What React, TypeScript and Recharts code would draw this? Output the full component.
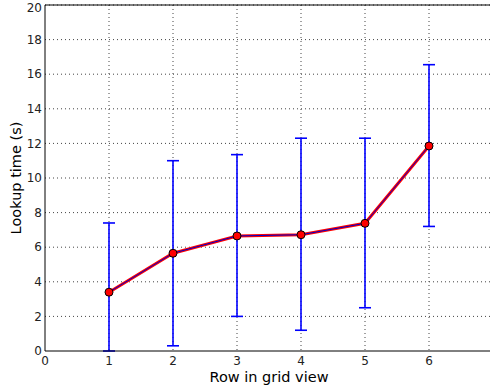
import React from 'react'
import { LineChart, Line, XAxis, YAxis, CartesianGrid, ErrorBar, ReferenceLine, Label } from 'recharts'

const rows = [1, 2, 3, 4, 5, 6]
const lookupTimes = [3.4, 5.65, 6.65, 6.72, 7.38, 11.85]
const errLow = [0, 0.3, 2.0, 1.2, 2.5, 7.2]
const errHigh = [7.4, 11.0, 11.35, 12.3, 12.3, 16.55]
const xTicks = [0, 1, 2, 3, 4, 5, 6]
const yTicks = [0, 2, 4, 6, 8, 10, 12, 14, 16, 18, 20]

const data = rows.map((row, i) => ({
  row,
  time: lookupTimes[i],
  err: [lookupTimes[i] - errLow[i], errHigh[i] - lookupTimes[i]],
}))

const font = 'DejaVu Sans, sans-serif'

export default function App() {
  return (
    <div style={{ position: 'absolute', left: 0, top: 0, width: 490, height: 387, overflow: 'hidden', background: '#fff' }}>
      <LineChart width={493} height={387} data={data} margin={{ top: 5, right: 0, bottom: 0, left: 0 }}>
        <CartesianGrid stroke="#444" strokeDasharray="1 3" horizontalValues={yTicks.slice(1)} verticalValues={xTicks.slice(1)} />
        <XAxis
          dataKey="row"
          type="number"
          domain={[0, 7]}
          ticks={xTicks}
          height={36}
          tickLine={false}
          tickSize={0}
          tickMargin={5}
          stroke="#000"
          tick={{ fill: '#222', fontSize: 12, fontFamily: font }}
        >
          <Label value="Row in grid view" position="insideBottom" offset={5} style={{ fill: '#000', fontSize: 14.5, fontFamily: font }} />
        </XAxis>
        <YAxis
          type="number"
          domain={[0, 20]}
          ticks={yTicks}
          allowDataOverflow
          width={45}
          tickLine={false}
          tickSize={0}
          tickMargin={3}
          stroke="#000"
          tick={{ fill: '#222', fontSize: 12, fontFamily: font }}
        >
          <Label value="Lookup time (s)" angle={-90} position="insideLeft" offset={16} style={{ fill: '#000', fontSize: 14.5, fontFamily: font, textAnchor: 'middle' }} />
        </YAxis>
        <ReferenceLine y={20} stroke="#000" strokeWidth={1} />
        <Line dataKey="time" stroke="#ff0000" strokeWidth={3} dot={false} isAnimationActive={false}>
          <ErrorBar dataKey="err" direction="y" width={6} stroke="#0000ff" strokeWidth={1.6} />
        </Line>
        <Line
          dataKey="time"
          stroke="#0000cc"
          strokeWidth={1}
          dot={{ r: 4, fill: '#ff0000', stroke: '#000', strokeWidth: 1 }}
          isAnimationActive={false}
        />
      </LineChart>
    </div>
  )
}
